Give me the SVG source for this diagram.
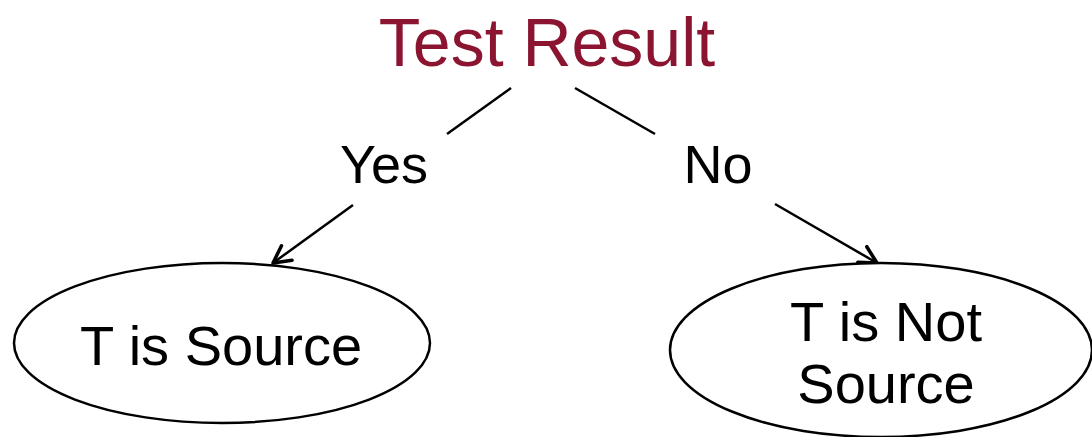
<svg xmlns="http://www.w3.org/2000/svg" width="1092" height="437" viewBox="0 0 1092 437">
<defs>
<marker id="arr" markerWidth="22" markerHeight="22" refX="19" refY="11" orient="auto" markerUnits="userSpaceOnUse" viewBox="0 0 22 22">
<path d="M2,2 L19,11 L2,20" fill="none" stroke="#000" stroke-width="3.5" stroke-linecap="round" stroke-linejoin="round"/>
</marker>
<style>
.t{font-family:"Liberation Sans",Arial,sans-serif;fill:#000;text-anchor:middle}
.e{fill:#fff;stroke:#000;stroke-width:2.5}
.c{stroke:#000;stroke-width:2.5;fill:none}
</style>
</defs>
<rect width="1092" height="437" fill="#fff"/>
<g id="connectors">
<line class="c" x1="511" y1="88" x2="447" y2="134"/>
<line class="c" x1="575" y1="88" x2="655" y2="134"/>
<line class="c" x1="353" y1="205" x2="273" y2="263" marker-end="url(#arr)"/>
<line class="c" x1="775" y1="204" x2="877" y2="263" marker-end="url(#arr)"/>
</g>
<g id="test-result">
<text class="t" x="547" y="66" font-size="68" style="fill:#8B1530">Test Result</text>
</g>
<g id="yes">
<text class="t" x="384" y="183" font-size="54">Yes</text>
</g>
<g id="no">
<text class="t" x="718" y="183" font-size="54">No</text>
</g>
<g id="t-is-source">
<ellipse class="e" cx="222" cy="343" rx="208" ry="80"/>
<text class="t" x="221" y="365" font-size="56">T is Source</text>
</g>
<g id="t-is-not-source">
<ellipse class="e" cx="881" cy="350" rx="211" ry="87"/>
<text class="t" x="886" y="341" font-size="56">T is Not</text>
<text class="t" x="886" y="403" font-size="56">Source</text>
</g>
</svg>
